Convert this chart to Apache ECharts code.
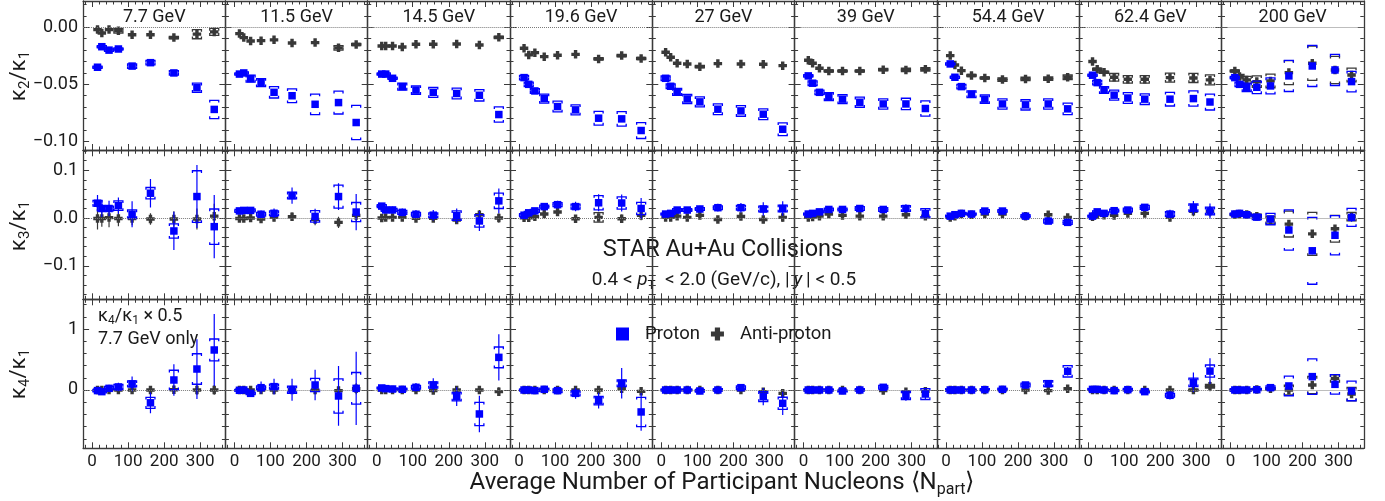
<!DOCTYPE html>
<html>
<head>
<meta charset="utf-8">
<title>STAR proton cumulant ratios</title>
<script src="https://cdn.jsdelivr.net/npm/echarts@6/dist/echarts.min.js"></script>
<style>
html, body { margin: 0; padding: 0; background: #fff; }
#chart { width: 1385px; height: 501px; }
</style>
</head>
<body>
<div id="chart"></div>
<script>
const energyLabels = ['7.7 GeV', '11.5 GeV', '14.5 GeV', '19.6 GeV', '27 GeV', '39 GeV', '54.4 GeV', '62.4 GeV', '200 GeV'];

// <Npart> per energy, 70-80% (left) ... 0-5% (right)
const npart = [
  [15, 27, 47, 73, 111, 162, 227, 291, 339],
  [14, 26, 45, 74, 110, 160, 224, 289, 338],
  [14, 25, 44, 71, 109, 157, 222, 285, 339],
  [14, 27, 44, 70, 107, 157, 221, 285, 339],
  [12, 26, 44, 72, 107, 157, 221, 283, 337],
  [13, 25, 44, 70, 108, 156, 221, 284, 338],
  [12, 25, 43, 71, 108, 157, 221, 284, 338],
  [12, 25, 44, 72, 110, 157, 227, 292, 338],
  [12, 25, 45, 73, 111, 162, 227, 290, 336]
];

// kappa2/kappa1
const k2Proton = [
  [-0.035, -0.017, -0.020, -0.019, -0.034, -0.031, -0.040, -0.053, -0.072],
  [-0.041, -0.040, -0.045, -0.0485, -0.057, -0.060, -0.0675, -0.066, -0.0835],
  [-0.041, -0.041, -0.0447, -0.052, -0.055, -0.057, -0.058, -0.0596, -0.0765],
  [-0.0441, -0.050, -0.0558, -0.0625, -0.0695, -0.0724, -0.0797, -0.0803, -0.0905],
  [-0.0447, -0.0517, -0.0566, -0.0628, -0.0654, -0.0718, -0.0733, -0.0762, -0.0894],
  [-0.0426, -0.049, -0.057, -0.0607, -0.063, -0.0657, -0.0672, -0.0672, -0.0712],
  [-0.0321, -0.0438, -0.052, -0.0587, -0.063, -0.0672, -0.068, -0.0672, -0.0715],
  [-0.042, -0.0485, -0.055, -0.0595, -0.062, -0.063, -0.063, -0.0625, -0.0655],
  [-0.0441, -0.050, -0.0526, -0.0526, -0.0514, -0.0426, -0.0339, -0.0374, -0.0476]
];
const k2ProtonSys = [
  [0.001, 0.001, 0.001, 0.001, 0.002, 0.002, 0.002, 0.004, 0.008],
  [0.001, 0.001, 0.003, 0.0035, 0.005, 0.006, 0.009, 0.010, 0.015],
  [0.001, 0.001, 0.001, 0.003, 0.0037, 0.0044, 0.0047, 0.005, 0.0067],
  [0.002, 0.002, 0.002, 0.004, 0.0047, 0.0044, 0.006, 0.0063, 0.007],
  [0.002, 0.002, 0.003, 0.004, 0.0044, 0.0047, 0.0047, 0.0047, 0.0056],
  [0.001, 0.002, 0.002, 0.0035, 0.004, 0.0044, 0.0045, 0.005, 0.0067],
  [0.001, 0.001, 0.002, 0.003, 0.0037, 0.0045, 0.0045, 0.0045, 0.005],
  [0.001, 0.002, 0.003, 0.0044, 0.0047, 0.0047, 0.006, 0.0067, 0.007],
  [0.001, 0.002, 0.0037, 0.0055, 0.007, 0.0137, 0.018, 0.0136, 0.009]
];
const k2Anti = [
  [-0.002, -0.005, -0.002, -0.003, -0.0065, -0.0065, -0.009, -0.006, -0.004],
  [-0.0055, -0.009, -0.012, -0.0117, -0.011, -0.0137, -0.0134, -0.018, -0.015],
  [-0.0164, -0.0164, -0.0164, -0.0172, -0.0149, -0.0149, -0.0146, -0.0155, -0.0088],
  [-0.0184, -0.0242, -0.0222, -0.0257, -0.0245, -0.0237, -0.0277, -0.0248, -0.0274],
  [-0.0219, -0.0263, -0.0315, -0.0321, -0.0345, -0.0318, -0.0321, -0.0324, -0.0336],
  [-0.0289, -0.0315, -0.0359, -0.0383, -0.0383, -0.0383, -0.0371, -0.0374, -0.0368],
  [-0.0248, -0.033, -0.038, -0.0423, -0.0444, -0.0458, -0.0453, -0.045, -0.0438],
  [-0.030, -0.0368, -0.0394, -0.0438, -0.0456, -0.0456, -0.0441, -0.0444, -0.0461],
  [-0.0383, -0.0432, -0.0461, -0.0476, -0.047, -0.0397, -0.0315, -0.0374, -0.0418]
];
const k2AntiSys = [
  [0, 0, 0, 0.002, 0, 0, 0.001, 0.004, 0.003],
  [0, 0, 0, 0, 0, 0, 0, 0.002, 0.001],
  [0, 0, 0, 0, 0, 0, 0, 0, 0.001],
  [0, 0, 0, 0, 0, 0, 0.001, 0.001, 0.001],
  [0, 0, 0, 0, 0.001, 0, 0, 0, 0],
  [0, 0, 0, 0.001, 0.001, 0.001, 0.001, 0.0015, 0.0015],
  [0, 0, 0, 0.001, 0.001, 0.0015, 0.0015, 0.0015, 0.002],
  [0, 0.001, 0.001, 0.0033, 0.0033, 0.0033, 0.004, 0.004, 0.0044],
  [0.001, 0.002, 0.003, 0.005, 0.006, 0.0105, 0.015, 0.012, 0.006]
];

// kappa3/kappa1
const k3Proton = [
  [0.031, 0.020, 0.020, 0.026, 0.008, 0.052, -0.027, 0.045, -0.018],
  [0.015, 0.016, 0.016, 0.008, 0.010, 0.047, 0.0035, 0.045, 0.0126],
  [0.025, 0.017, 0.017, 0.012, 0.008, 0.006, 0.005, -0.006, 0.036],
  [0.006, 0.011, 0.015, 0.024, 0.028, 0.024, 0.032, 0.0315, 0.020],
  [0.0084, 0.0098, 0.0168, 0.0168, 0.019, 0.0217, 0.0217, 0.019, 0.020],
  [0.0084, 0.0098, 0.013, 0.018, 0.018, 0.020, 0.018, 0.020, 0.0098],
  [0.004, 0.007, 0.0098, 0.0084, 0.0147, 0.0147, 0.004, -0.0063, -0.009],
  [0.004, 0.013, 0.0098, 0.0154, 0.0168, 0.0224, 0.0084, 0.0217, 0.0147],
  [0.0084, 0.0098, 0.007, 0.002, -0.002, -0.025, -0.0685, -0.036, 0.0014]
];
const k3ProtonStat = [
  [0.017, 0.018, 0.016, 0.017, 0.027, 0.03, 0.04, 0.066, 0.066],
  [0.006, 0.006, 0.006, 0.008, 0.01, 0.017, 0.016, 0.028, 0.038],
  [0.006, 0.006, 0.007, 0.008, 0.009, 0.011, 0.015, 0.021, 0.026],
  [0.005, 0.005, 0.006, 0.007, 0.008, 0.01, 0.018, 0.018, 0.022],
  [0.004, 0.004, 0.005, 0.006, 0.007, 0.008, 0.01, 0.014, 0.015],
  [0.003, 0.003, 0.004, 0.005, 0.006, 0.006, 0.007, 0.009, 0.01],
  [0.002, 0.002, 0.003, 0.003, 0.004, 0.004, 0.005, 0.006, 0.006],
  [0.003, 0.004, 0.005, 0.006, 0.006, 0.007, 0.009, 0.014, 0.016],
  [0.002, 0.003, 0.003, 0.004, 0.005, 0.006, 0.007, 0.008, 0.009]
];
const k3ProtonSys = [
  [0.006, 0.005, 0.005, 0.01, 0.009, 0.012, 0.015, 0.054, 0.037],
  [0.003, 0.003, 0.003, 0.004, 0.005, 0.007, 0.012, 0.024, 0.02],
  [0.003, 0.003, 0.003, 0.004, 0.004, 0.005, 0.01, 0.013, 0.016],
  [0.003, 0.003, 0.003, 0.003, 0.004, 0.005, 0.015, 0.013, 0.013],
  [0.002, 0.002, 0.003, 0.003, 0.003, 0.004, 0.005, 0.006, 0.007],
  [0.002, 0.002, 0.002, 0.003, 0.003, 0.004, 0.004, 0.006, 0.01],
  [0.001, 0.001, 0.002, 0.002, 0.003, 0.003, 0.003, 0.004, 0.004],
  [0.002, 0.002, 0.003, 0.003, 0.004, 0.004, 0.005, 0.008, 0.008],
  [0.002, 0.002, 0.003, 0.005, 0.012, 0.042, 0.07, 0.041, 0.019]
];
const k3Anti = [
  [-0.001, -0.001, 0.001, -0.001, -0.001, -0.002, -0.002, -0.002, 0.004],
  [-0.001, -0.001, 0.0, -0.002, 0.0014, 0.0028, -0.0028, -0.009, 0.0056],
  [0.0, 0.001, 0.0014, 0.0014, -0.0007, -0.0007, -0.004, 0.007, 0.0],
  [0.0007, 0.0007, 0.003, 0.0084, 0.0126, -0.0014, 0.0014, -0.0014, 0.0056],
  [0.0014, 0.0014, 0.004, 0.0014, 0.0056, -0.003, 0.0035, -0.003, 0.0014],
  [0.0014, 0.002, 0.004, 0.0084, 0.0056, 0.004, 0.004, 0.007, 0.004],
  [0.0014, 0.004, 0.0084, 0.007, 0.0084, 0.0084, 0.004, 0.007, 0.0014],
  [0.003, 0.007, 0.006, 0.0056, 0.0098, 0.0098, 0.0014, 0.014, 0.014],
  [0.007, 0.0084, 0.0077, 0.004, -0.004, -0.0126, -0.033, -0.0224, 0.003]
];
const k3AntiStat = [
  [0.023, 0.017, 0.02, 0.016, 0.014, 0.012, 0.016, 0.022, 0.026],
  [0.006, 0.006, 0.007, 0.008, 0.008, 0.009, 0.012, 0.012, 0.012],
  [0.004, 0.004, 0.005, 0.005, 0.006, 0.007, 0.008, 0.01, 0.01],
  [0.004, 0.004, 0.005, 0.006, 0.006, 0.007, 0.008, 0.009, 0.01],
  [0.004, 0.004, 0.004, 0.005, 0.005, 0.006, 0.007, 0.008, 0.009],
  [0.003, 0.003, 0.004, 0.004, 0.005, 0.005, 0.006, 0.007, 0.008],
  [0.002, 0.002, 0.003, 0.003, 0.003, 0.004, 0.004, 0.005, 0.006],
  [0.003, 0.004, 0.005, 0.005, 0.006, 0.007, 0.008, 0.01, 0.011],
  [0.002, 0.003, 0.003, 0.004, 0.005, 0.006, 0.007, 0.008, 0.009]
];
const k3AntiSys = [
  [0, 0, 0, 0, 0, 0, 0, 0, 0],
  [0, 0, 0, 0, 0, 0, 0, 0, 0],
  [0, 0, 0, 0, 0, 0, 0, 0, 0],
  [0, 0, 0, 0, 0, 0, 0.01, 0, 0],
  [0, 0, 0, 0, 0, 0, 0, 0, 0],
  [0, 0, 0, 0, 0, 0, 0, 0, 0],
  [0, 0, 0, 0, 0, 0, 0, 0, 0],
  [0, 0, 0, 0, 0, 0, 0, 0, 0],
  [0.002, 0.002, 0.003, 0.004, 0.008, 0.027, 0.045, 0.028, 0.009]
];

// kappa4/kappa1 (7.7 GeV scaled by 0.5)
const k4Proton = [
  [-0.01, -0.027, 0.027, 0.05, 0.10, -0.21, 0.164, 0.344, 0.656],
  [-0.005, 0.0, -0.055, 0.038, 0.055, 0.005, 0.082, -0.098, 0.027],
  [0.033, 0.022, 0.016, 0.011, 0.044, 0.082, -0.109, -0.393, 0.535],
  [0.0, 0.0, -0.01, 0.011, -0.011, -0.055, -0.175, 0.109, -0.36],
  [0.0, 0.0, 0.0, 0.0, -0.016, 0.0, 0.038, -0.109, -0.219],
  [0.0, 0.0, 0.0, 0.0, -0.016, 0.0, 0.044, -0.087, -0.066],
  [0.0, 0.0, 0.0, 0.0, 0.005, 0.011, 0.082, 0.104, 0.306],
  [0.01, 0.01, 0.0, -0.01, 0.005, -0.027, -0.087, 0.126, 0.31],
  [0.0, 0.0, 0.0, 0.005, 0.038, 0.066, 0.219, 0.093, -0.016]
];
const k4ProtonStat = [
  [0.05, 0.05, 0.06, 0.07, 0.12, 0.17, 0.26, 0.49, 0.59],
  [0.03, 0.03, 0.04, 0.1, 0.13, 0.18, 0.25, 0.49, 0.6],
  [0.03, 0.03, 0.04, 0.05, 0.07, 0.11, 0.155, 0.3, 0.38],
  [0.02, 0.02, 0.03, 0.04, 0.05, 0.09, 0.13, 0.25, 0.31],
  [0.02, 0.02, 0.02, 0.03, 0.03, 0.04, 0.06, 0.14, 0.19],
  [0.01, 0.01, 0.02, 0.02, 0.03, 0.03, 0.04, 0.09, 0.1],
  [0.01, 0.01, 0.01, 0.01, 0.02, 0.02, 0.03, 0.04, 0.07],
  [0.02, 0.02, 0.02, 0.03, 0.03, 0.04, 0.07, 0.16, 0.21],
  [0.01, 0.01, 0.01, 0.01, 0.02, 0.03, 0.04, 0.05, 0.06]
];
const k4ProtonSys = [
  [0.02, 0.02, 0.03, 0.04, 0.05, 0.09, 0.16, 0.25, 0.18],
  [0.01, 0.01, 0.02, 0.03, 0.04, 0.06, 0.11, 0.28, 0.26],
  [0.01, 0.01, 0.02, 0.02, 0.03, 0.05, 0.07, 0.19, 0.17],
  [0.01, 0.01, 0.01, 0.02, 0.03, 0.04, 0.07, 0.055, 0.24],
  [0.01, 0.01, 0.01, 0.01, 0.02, 0.02, 0.03, 0.08, 0.1],
  [0.01, 0.01, 0.01, 0.01, 0.01, 0.02, 0.03, 0.07, 0.09],
  [0.005, 0.005, 0.01, 0.01, 0.01, 0.02, 0.03, 0.05, 0.093],
  [0.01, 0.01, 0.01, 0.01, 0.02, 0.02, 0.03, 0.07, 0.1],
  [0.005, 0.005, 0.01, 0.01, 0.03, 0.16, 0.29, 0.16, 0.16]
];
const k4Anti = [
  [0.0, 0.0, 0.0, 0.0, 0.0, 0.0, 0.005, 0.0, 0.0],
  [0.0, 0.0, 0.0, 0.0, 0.0, 0.0, 0.0, -0.01, 0.02],
  [0.0, 0.0, 0.0, 0.0, 0.0, -0.01, 0.0, 0.0, -0.027],
  [0.0, 0.0, 0.0, 0.0, 0.0, 0.0, 0.0, 0.02, -0.022],
  [0.0, 0.0, 0.0, 0.0, 0.0, 0.0, 0.0, -0.027, -0.055],
  [0.0, 0.0, 0.0, 0.0, 0.0, 0.0, -0.01, -0.027, -0.022],
  [0.0, 0.0, 0.0, 0.0, 0.0, 0.0, 0.0, -0.01, 0.02],
  [0.0, 0.0, 0.0, 0.0, 0.0, 0.0, 0.0, 0.0, 0.06],
  [0.0, 0.0, 0.0, 0.01, 0.02, 0.0, 0.082, 0.19, -0.066]
];
const k4AntiStat = [
  [0.04, 0.04, 0.04, 0.05, 0.05, 0.06, 0.07, 0.08, 0.08],
  [0.02, 0.02, 0.03, 0.04, 0.05, 0.06, 0.07, 0.08, 0.09],
  [0.02, 0.02, 0.03, 0.03, 0.04, 0.04, 0.05, 0.06, 0.07],
  [0.02, 0.02, 0.02, 0.03, 0.03, 0.04, 0.04, 0.05, 0.06],
  [0.02, 0.02, 0.02, 0.02, 0.03, 0.03, 0.04, 0.05, 0.06],
  [0.01, 0.01, 0.01, 0.02, 0.02, 0.02, 0.03, 0.04, 0.05],
  [0.01, 0.01, 0.01, 0.01, 0.01, 0.02, 0.02, 0.03, 0.03],
  [0.01, 0.01, 0.01, 0.02, 0.02, 0.03, 0.03, 0.05, 0.08],
  [0.01, 0.01, 0.01, 0.01, 0.02, 0.03, 0.04, 0.05, 0.06]
];
const k4AntiSys = [
  [0, 0, 0, 0, 0, 0, 0, 0, 0],
  [0, 0, 0, 0, 0, 0, 0, 0, 0],
  [0, 0, 0, 0, 0, 0, 0, 0, 0],
  [0, 0, 0, 0, 0, 0, 0, 0, 0],
  [0, 0, 0, 0, 0, 0, 0, 0, 0],
  [0, 0, 0, 0, 0, 0, 0, 0, 0],
  [0, 0, 0, 0, 0, 0, 0, 0, 0],
  [0, 0, 0, 0, 0, 0, 0, 0.01, 0.03],
  [0.005, 0.005, 0.01, 0.01, 0.02, 0.08, 0.14, 0.06, 0.11]
];

// axis ticks
const xMajorTicks = [0, 100, 200, 300];
const xMinorTicks = [-20, 20, 40, 60, 80, 120, 140, 160, 180, 220, 240, 260, 280, 320, 340, 360];
const yMajorTicks = [[-0.10, -0.05, 0.00], [-0.1, 0.0, 0.1], [0, 1]];
const yMinorTicks = [
  [-0.09, -0.08, -0.07, -0.06, -0.04, -0.03, -0.02, -0.01, 0.01, 0.02],
  [-0.16, -0.14, -0.12, -0.08, -0.06, -0.04, -0.02, 0.02, 0.04, 0.06, 0.08, 0.12, 0.14],
  [-0.8, -0.6, -0.4, -0.2, 0.2, 0.4, 0.6, 0.8, 1.2, 1.4]
];
const yRange = [[-0.1076, 0.0231], [-0.170, 0.1418], [-0.956, 1.487]];
const yDecimals = [2, 1, 0];

const rowData = [
  { p: k2Proton, pStat: null, pSys: k2ProtonSys, a: k2Anti, aStat: null, aSys: k2AntiSys },
  { p: k3Proton, pStat: k3ProtonStat, pSys: k3ProtonSys, a: k3Anti, aStat: k3AntiStat, aSys: k3AntiSys },
  { p: k4Proton, pStat: k4ProtonStat, pSys: k4ProtonSys, a: k4Anti, aStat: k4AntiStat, aSys: k4AntiSys }
];

const GRID_LEFT = 83.1, GRID_W = 142.3;
const ROW_TOP = [1, 150.3, 299.3], ROW_H = 149;
const AXIS_COLOR = '#3a3a3a';
const PROTON_COLOR = '#0000ff';
const ANTI_COLOR = '#383838';
const TEXT_COLOR = '#1a1a1a';
const FONT = 'Roboto';
const CROSS = 'path://M3,0H7V3H10V7H7V10H3V7H0V3H3Z';

function fmt(v, d) {
  return (v < -1e-9 ? '\u2212' : '') + Math.abs(v).toFixed(d);
}

// error bars: thin line = stat, bracket caps = sys
function errRenderer(color) {
  return function (params, api) {
    const x = api.value(0), y = api.value(1), st = api.value(2), sy = api.value(3);
    const children = [];
    if (st > 0) {
      const a = api.coord([x, y + st]), b = api.coord([x, y - st]);
      children.push({ type: 'line', shape: { x1: a[0], y1: a[1], x2: b[0], y2: b[1] },
        style: { stroke: color, lineWidth: 1.2 } });
    }
    if (sy > 0) {
      const t = api.coord([x, y + sy]), b = api.coord([x, y - sy]);
      const w = 4.5, h = 2.2;
      children.push({ type: 'polyline', shape: { points: [[t[0] - w, t[1] + h], [t[0] - w, t[1]], [t[0] + w, t[1]], [t[0] + w, t[1] + h]] },
        style: { stroke: color, fill: null, lineWidth: 1.3 } });
      children.push({ type: 'polyline', shape: { points: [[b[0] - w, b[1] - h], [b[0] - w, b[1]], [b[0] + w, b[1]], [b[0] + w, b[1] - h]] },
        style: { stroke: color, fill: null, lineWidth: 1.3 } });
    }
    return { type: 'group', children: children };
  };
}

const grid = [], xAxis = [], yAxis = [], series = [];

for (let r = 0; r < 3; r++) {
  for (let c = 0; c < 9; c++) {
    const g = grid.length;
    grid.push({ left: GRID_LEFT + c * GRID_W, top: ROW_TOP[r], width: GRID_W, height: ROW_H,
      containLabel: false, outerBoundsMode: 'none' });

    const xi = xAxis.length;
    ['bottom', 'top'].forEach(function (pos) {
      xAxis.push({
        type: 'value', gridIndex: g, position: pos, min: -25, max: 370,
        splitLine: { show: false },
        axisLine: { show: true, onZero: false, lineStyle: { color: AXIS_COLOR, width: 1.3 } },
        axisTick: { show: true, inside: true, length: 6, customValues: xMajorTicks, lineStyle: { color: AXIS_COLOR, width: 1 } },
        axisLabel: (pos === 'bottom' && r === 2)
          ? { show: true, customValues: xMajorTicks, margin: 5, fontSize: 17, fontFamily: FONT, color: TEXT_COLOR }
          : { show: false }
      });
      xAxis.push({
        type: 'value', gridIndex: g, position: pos, min: -25, max: 370,
        splitLine: { show: false },
        axisLine: { show: false, onZero: false },
        axisTick: { show: true, inside: true, length: 3.5, customValues: xMinorTicks, lineStyle: { color: AXIS_COLOR, width: 1 } },
        axisLabel: { show: false }
      });
    });

    const yi = yAxis.length;
    ['left', 'right'].forEach(function (pos) {
      yAxis.push({
        type: 'value', gridIndex: g, position: pos, min: yRange[r][0], max: yRange[r][1],
        splitLine: { show: false },
        axisLine: { show: true, onZero: false, lineStyle: { color: AXIS_COLOR, width: 1.3 } },
        axisTick: { show: true, inside: true, length: 6, customValues: yMajorTicks[r], lineStyle: { color: AXIS_COLOR, width: 1 } },
        axisLabel: (pos === 'left' && c === 0)
          ? { show: true, customValues: yMajorTicks[r], margin: 5, fontSize: 18, fontFamily: FONT, color: TEXT_COLOR,
              formatter: function (v) { return fmt(v, yDecimals[r]); } }
          : { show: false }
      });
      yAxis.push({
        type: 'value', gridIndex: g, position: pos, min: yRange[r][0], max: yRange[r][1],
        splitLine: { show: false },
        axisLine: { show: false, onZero: false },
        axisTick: { show: true, inside: true, length: 3.5, customValues: yMinorTicks[r], lineStyle: { color: AXIS_COLOR, width: 1 } },
        axisLabel: { show: false }
      });
    });

    const d = rowData[r];
    const xs = npart[c];
    const aData = xs.map(function (x, i) { return [x, d.a[c][i], d.aStat ? d.aStat[c][i] : 0, d.aSys[c][i]]; });
    const pData = xs.map(function (x, i) { return [x, d.p[c][i], d.pStat ? d.pStat[c][i] : 0, d.pSys[c][i]]; });

    series.push({
      type: 'scatter', name: 'zero', xAxisIndex: xi, yAxisIndex: yi, data: [], silent: true, z: 1,
      markLine: { silent: true, symbol: 'none', label: { show: false },
        lineStyle: { type: 'dotted', color: '#7a7a7a', width: 1 }, data: [{ yAxis: 0 }] }
    });
    series.push({
      type: 'custom', name: 'antiErr', xAxisIndex: xi, yAxisIndex: yi, clip: true, silent: true, z: 2,
      renderItem: errRenderer(ANTI_COLOR), encode: { x: 0, y: 1 }, data: aData
    });
    series.push({
      type: 'scatter', name: 'Anti-proton', xAxisIndex: xi, yAxisIndex: yi, silent: true, z: 3,
      symbol: CROSS, symbolSize: 8.5, itemStyle: { color: ANTI_COLOR, opacity: 1 },
      data: aData.map(function (p) { return [p[0], p[1]]; })
    });
    series.push({
      type: 'custom', name: 'protonErr', xAxisIndex: xi, yAxisIndex: yi, clip: true, silent: true, z: 4,
      renderItem: errRenderer(PROTON_COLOR), encode: { x: 0, y: 1 }, data: pData
    });
    series.push({
      type: 'scatter', name: 'Proton', xAxisIndex: xi, yAxisIndex: yi, silent: true, z: 5,
      symbol: 'rect', symbolSize: 7.5, itemStyle: { color: PROTON_COLOR, opacity: 1 },
      data: pData.map(function (p) { return [p[0], p[1]]; })
    });
  }
}

const graphic = [];
energyLabels.forEach(function (t, c) {
  graphic.push({ type: 'text', x: GRID_LEFT + (c + 0.5) * GRID_W, y: 17, z: 10,
    style: { text: t, align: 'center', verticalAlign: 'middle', fontSize: 18, fontFamily: FONT, fill: TEXT_COLOR } });
});

const kRich = {
  k: { fontSize: 22, fontFamily: FONT, lineHeight: 28, fill: TEXT_COLOR },
  s: { fontSize: 15, fontFamily: FONT, lineHeight: 15, verticalAlign: 'bottom', fill: TEXT_COLOR }
};
[['2', 76], ['3', 226], ['4', 374]].forEach(function (it) {
  graphic.push({ type: 'text', x: 19, y: it[1], rotation: Math.PI / 2,
    style: { text: '{k|κ}{s|' + it[0] + '}{k|/κ}{s|1}', rich: kRich, align: 'center', verticalAlign: 'middle' } });
});

graphic.push({ type: 'text', x: 722, y: 483,
  style: { text: '{a|Average Number of Participant Nucleons \u27E8N}{s|part}{a|\u27E9}', align: 'center', verticalAlign: 'middle',
    rich: { a: { fontSize: 24, fontFamily: FONT, lineHeight: 30, fill: TEXT_COLOR },
            s: { fontSize: 16, fontFamily: FONT, lineHeight: 16, verticalAlign: 'bottom', fill: TEXT_COLOR } } } });

graphic.push({ type: 'text', x: 723, y: 250,
  style: { text: 'STAR Au+Au Collisions', align: 'center', verticalAlign: 'middle', fontSize: 23.5, fontFamily: FONT, fill: TEXT_COLOR } });
graphic.push({ type: 'text', x: 724, y: 280,
  style: { text: '{n|0.4 < }{i|p}{s|T}{n|  < 2.0 (GeV/c), |\u2009}{i|y}{n|\u2009| < 0.5}', align: 'center', verticalAlign: 'middle',
    rich: { n: { fontSize: 19, fontFamily: FONT, lineHeight: 26, fill: TEXT_COLOR },
            i: { fontSize: 19, fontFamily: FONT, fontStyle: 'italic', lineHeight: 26, fill: TEXT_COLOR },
            s: { fontSize: 13.5, fontFamily: FONT, lineHeight: 13.5, verticalAlign: 'bottom', fill: TEXT_COLOR } } } });

graphic.push({ type: 'text', x: 98, y: 316,
  style: { text: '{k|κ}{s|4}{k|/κ}{s|1}{k| × 0.5}', align: 'left', verticalAlign: 'middle',
    rich: { k: { fontSize: 18, fontFamily: FONT, lineHeight: 22, fill: TEXT_COLOR },
            s: { fontSize: 12, fontFamily: FONT, lineHeight: 12, verticalAlign: 'bottom', fill: TEXT_COLOR } } } });
graphic.push({ type: 'text', x: 98, y: 339,
  style: { text: '7.7 GeV only', align: 'left', verticalAlign: 'middle', fontSize: 18, fontFamily: FONT, fill: TEXT_COLOR } });

const chart = echarts.init(document.getElementById('chart'), null, { renderer: 'canvas' });
chart.setOption({
  animation: false,
  backgroundColor: '#ffffff',
  grid: grid,
  xAxis: xAxis,
  yAxis: yAxis,
  series: series,
  graphic: graphic,
  legend: {
    left: 616, top: 324.5, padding: 0, itemWidth: 13, itemHeight: 13, itemGap: 11,
    selectedMode: false,
    textStyle: { fontSize: 18.5, fontFamily: FONT, color: TEXT_COLOR, padding: [0, 0, 0, 11] },
    data: [{ name: 'Proton', icon: 'rect' }, { name: 'Anti-proton', icon: CROSS }]
  }
});
</script>
</body>
</html>
